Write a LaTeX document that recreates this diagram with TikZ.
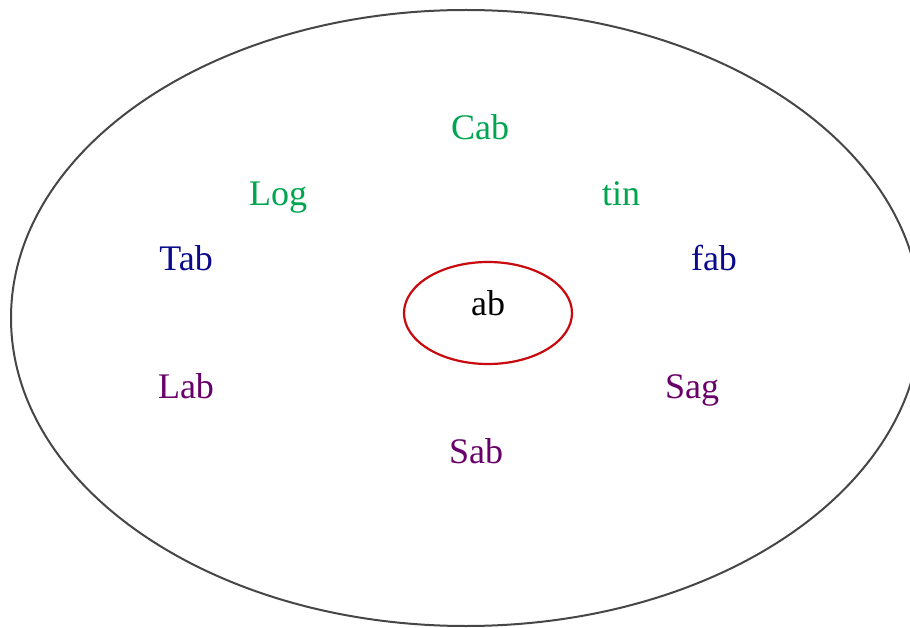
\documentclass[tikz,border=0pt]{standalone}
\usepackage{fontspec}
\setmainfont{Liberation Serif}
\definecolor{cgreen}{RGB}{0,165,80}
\definecolor{cblue}{RGB}{10,10,140}
\definecolor{cpurple}{RGB}{105,0,105}
\definecolor{cred}{RGB}{200,10,15}
\definecolor{cgray}{RGB}{70,70,70}
\tikzset{
  lbl/.style={inner sep=0pt, font=\fontsize{36}{42}\selectfont},
  grn/.style={lbl, text=cgreen},
  blu/.style={lbl, text=cblue},
  pur/.style={lbl, text=cpurple},
}
\begin{document}
\begin{tikzpicture}[x=1pt,y=-1pt]
\useasboundingbox (0,0) rectangle (910,628);
\draw[cgray, line width=2pt] (466,318) ellipse [x radius=455, y radius=308];
\draw[cred, line width=2.2pt] (488,313) ellipse [x radius=84, y radius=51];
\node[lbl, anchor=base] (ab) at (488,316) {ab};
\node[grn, anchor=base] (cab) at (480,140) {Cab};
\node[grn, anchor=base] (log) at (278,206) {Log};
\node[grn, anchor=base] (tin) at (621,206) {tin};
\node[blu, anchor=base] (tab) at (186,271) {Tab};
\node[blu, anchor=base] (fab) at (714,271) {fab};
\node[pur, anchor=base] (lab) at (186,398) {Lab};
\node[pur, anchor=base] (sag) at (692,398) {Sag};
\node[pur, anchor=base] (sab) at (476,463) {Sab};
\end{tikzpicture}
\end{document}
